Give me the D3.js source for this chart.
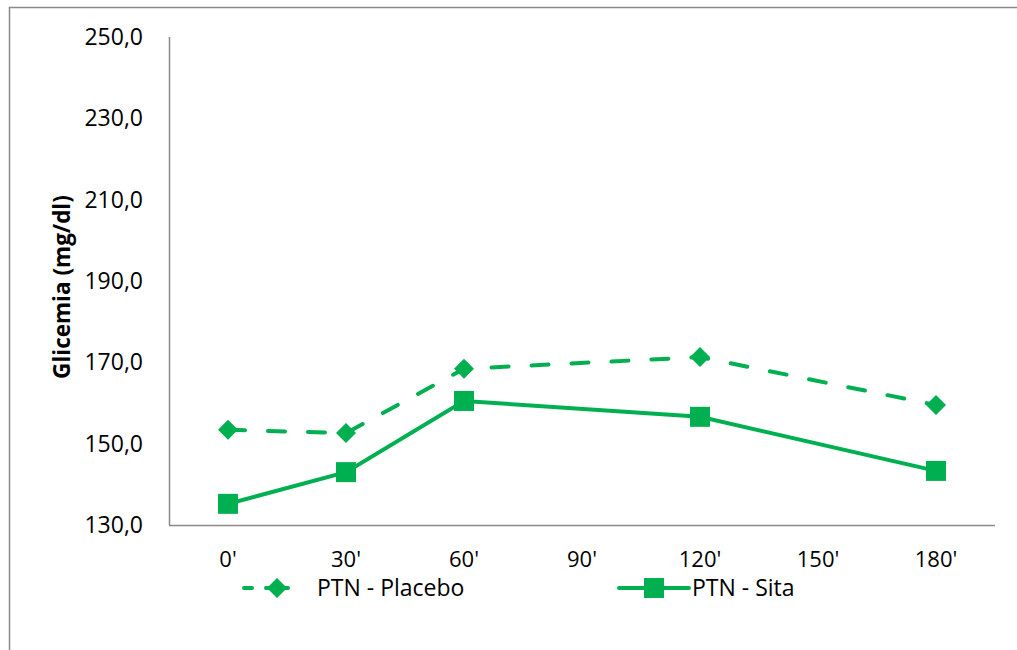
<!DOCTYPE html>
<html>
<head>
<meta charset="utf-8">
<script src="https://cdn.jsdelivr.net/npm/d3@7"></script>
<style>
  body { margin: 0; background: #fff; }
  text { font-family: "Open Sans", Lato, sans-serif; fill: #000; }
</style>
</head>
<body>
<svg id="chart" width="1017" height="650"></svg>
<script>
const categories = ["0'", "30'", "60'", "90'", "120'", "150'", "180'"]
const yTicks = [130, 150, 170, 190, 210, 230, 250]
const placeboTimes = ["0'", "30'", "60'", "120'", "180'"]
const placeboValues = [153.4, 152.6, 168.4, 171.3, 159.5]
const sitaTimes = ["0'", "30'", "60'", "120'", "180'"]
const sitaValues = [135.2, 143.0, 160.5, 156.6, 143.3]

const green = "#00B050"
const axisGray = "#898989"

const svg = d3.select("#chart")

// outer frame
svg.append("path")
  .attr("d", "M9.5,650 V7.5 H1017")
  .attr("fill", "none")
  .attr("stroke", axisGray)
  .attr("stroke-width", 1.5)

const x = d3.scaleBand()
  .domain(categories)
  .range([169, 995])

const y = d3.scaleLinear()
  .domain([130, 250])
  .range([525, 37])

const g = svg.append("g")

// y axis line + labels
g.append("line")
  .attr("x1", 169.5).attr("x2", 169.5)
  .attr("y1", y(250)).attr("y2", y(130))
  .attr("stroke", axisGray).attr("stroke-width", 1.5)

g.selectAll(".ytick")
  .data(yTicks)
  .join("text")
    .attr("class", "ytick")
    .attr("x", 143)
    .attr("y", d => y(d))
    .attr("dy", "0.35em")
    .attr("text-anchor", "end")
    .attr("font-size", 23)
    .text(d => d3.format(".1f")(d).replace(".", ","))

// x axis line + labels
g.append("line")
  .attr("x1", 169).attr("x2", 995)
  .attr("y1", 525.5).attr("y2", 525.5)
  .attr("stroke", axisGray).attr("stroke-width", 1.5)

g.selectAll(".xtick")
  .data(categories)
  .join("text")
    .attr("class", "xtick")
    .attr("x", d => x(d) + x.bandwidth() / 2)
    .attr("y", 559)
    .attr("dy", "0.35em")
    .attr("text-anchor", "middle")
    .attr("font-size", 22)
    .text(d => d)

// y axis title
svg.append("text")
  .attr("transform", `translate(62,${(y(250) + y(130)) / 2 + 6}) rotate(-90)`)
  .attr("text-anchor", "middle")
  .attr("dy", "0.35em")
  .attr("font-size", 22.5)
  .attr("font-weight", "bold")
  .text("Glicemia (mg/dl)")

const cx = d => x(d) + x.bandwidth() / 2
const line = d3.line()
  .x(d => cx(d[0]))
  .y(d => y(d[1]))

const placebo = d3.zip(placeboTimes, placeboValues)
const sita = d3.zip(sitaTimes, sitaValues)

// placebo: dashed + diamonds
g.append("path")
  .datum(placebo)
  .attr("d", line)
  .attr("fill", "none")
  .attr("stroke", green)
  .attr("stroke-width", 4)
  .attr("stroke-linecap", "round")
  .attr("stroke-dasharray", "17,23")

const diamond = d3.symbol().type(d3.symbolSquare).size(200)
g.selectAll(".dia")
  .data(placebo)
  .join("path")
    .attr("class", "dia")
    .attr("d", diamond)
    .attr("transform", d => `translate(${cx(d[0])},${y(d[1])}) rotate(45)`)
    .attr("fill", green)

// sita: solid + squares
g.append("path")
  .datum(sita)
  .attr("d", line)
  .attr("fill", "none")
  .attr("stroke", green)
  .attr("stroke-width", 4)

g.selectAll(".sq")
  .data(sita)
  .join("rect")
    .attr("class", "sq")
    .attr("x", d => cx(d[0]) - 10)
    .attr("y", d => y(d[1]) - 10)
    .attr("width", 20)
    .attr("height", 20)
    .attr("fill", green)

// legend
const legend = svg.append("g").attr("transform", "translate(0,588)")

const lp = legend.append("g")
lp.append("line")
  .attr("x1", 244).attr("x2", 300).attr("y1", 0).attr("y2", 0)
  .attr("stroke", green).attr("stroke-width", 4)
  .attr("stroke-linecap", "round")
  .attr("stroke-dasharray", "8,14,22,14,8")
lp.append("path")
  .attr("d", diamond)
  .attr("transform", "translate(277,0) rotate(45)")
  .attr("fill", green)
lp.append("text")
  .attr("x", 317).attr("y", 0).attr("dy", "0.35em")
  .attr("font-size", 23)
  .text("PTN - Placebo")

const ls = legend.append("g")
ls.append("line")
  .attr("x1", 619).attr("x2", 689).attr("y1", 0).attr("y2", 0)
  .attr("stroke", green).attr("stroke-width", 4)
  .attr("stroke-linecap", "round")
ls.append("rect")
  .attr("x", 644).attr("y", -10).attr("width", 20).attr("height", 20)
  .attr("fill", green)
ls.append("text")
  .attr("x", 692).attr("y", 0).attr("dy", "0.35em")
  .attr("font-size", 23)
  .text("PTN - Sita")
</script>
</body>
</html>
